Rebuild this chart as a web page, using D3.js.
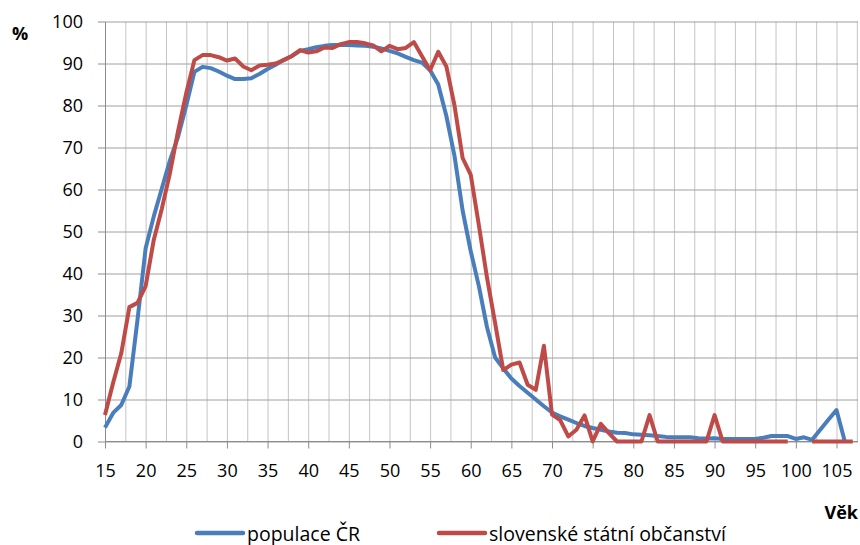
<!DOCTYPE html>
<html>
<head>
<meta charset="utf-8">
<script src="https://cdn.jsdelivr.net/npm/d3@7"></script>
<style>
  body { margin: 0; background: #fff; }
  text { font-family: "Open Sans", "Liberation Sans", sans-serif; fill: #000; }
</style>
</head>
<body>
<div id="chart"></div>
<script>
// ages (categories)
const ages = [
  15, 16, 17, 18, 19, 20, 21, 22, 23, 24, 25, 26, 27, 28, 29, 30, 31, 32, 33, 34,
  35, 36, 37, 38, 39, 40, 41, 42, 43, 44, 45, 46, 47, 48, 49, 50, 51, 52, 53, 54,
  55, 56, 57, 58, 59, 60, 61, 62, 63, 64, 65, 66, 67, 68, 69, 70, 71, 72, 73, 74,
  75, 76, 77, 78, 79, 80, 81, 82, 83, 84, 85, 86, 87, 88, 89, 90, 91, 92, 93, 94,
  95, 96, 97, 98, 99, 100, 101, 102, 103, 104, 105, 106, 107
];

// populace ČR
const populace = [
  3.3, 6.8, 8.7, 13.1, 29, 46, 53.6, 60.3, 67, 72.6, 80, 88, 89.2, 88.9, 88.1, 87.1, 86.3, 86.3, 86.5, 87.5,
  88.7, 89.7, 90.9, 91.8, 93, 93.4, 93.9, 94.2, 94.4, 94.4, 94.4, 94.3, 94.2, 94, 93.6, 93, 92.4, 91.6, 90.8, 90.2,
  88.4, 85, 77.5, 68, 55, 45.3, 37, 27.2, 20, 17.4, 15, 13.2, 11.6, 10, 8.4, 6.9, 6, 5.2, 4.4, 3.7,
  3.2, 2.8, 2.4, 2.1, 2, 1.7, 1.6, 1.5, 1.3, 1.1, 1, 1, 1, 0.8, 0.7, 0.8, 0.6, 0.6, 0.6, 0.6,
  0.6, 0.9, 1.3, 1.3, 1.3, 0.6, 1, 0.4, 2.8, 5.2, 7.5, 0.2, null
];

// slovenské státní občanství
const slovenske = [
  6.3, 14, 21, 32, 33, 37, 48, 55.5, 64, 74, 83, 90.8, 92, 92, 91.5, 90.7, 91.2, 89.3, 88.4, 89.5,
  89.7, 90, 90.8, 91.8, 93.2, 92.6, 92.9, 93.8, 93.7, 94.6, 95.1, 95.1, 94.8, 94.3, 92.9, 94.2, 93.4, 93.7, 95.1, 91.7,
  88.4, 92.8, 89.3, 80, 67.5, 63.5, 51.5, 39, 28.2, 17, 18.3, 18.8, 13.5, 12.3, 22.8, 6.4, 5.1, 1.2, 2.8, 6.2,
  0, 4.2, 2, 0, 0, 0, 0, 6.3, 0, 0, 0, 0, 0, 0, 0, 6.3, 0, 0, 0, 0,
  0, 0, 0, 0, 0, null, null, 0, 0, 0, 0, 0, 0
];

const xTicks = [15, 20, 25, 30, 35, 40, 45, 50, 55, 60, 65, 70, 75, 80, 85, 90, 95, 100, 105];
const yTicks = [0, 10, 20, 30, 40, 50, 60, 70, 80, 90, 100];

const seriesNames = ["populace ČR", "slovenské státní občanství"];
const seriesColors = ["#4a7ebb", "#be4b48"];

const width = 860, height = 545;
const plotLeft = 105, plotRight = 858, plotTop = 21.5, plotBottom = 441.5;

const svg = d3.select("#chart").append("svg")
  .attr("width", width)
  .attr("height", height);

const x = d3.scaleLinear().domain([15, 107.4]).range([plotLeft, 856]);
const y = d3.scaleLinear().domain([0, 100]).range([plotBottom, plotTop]);

// vertical gridlines every 2.5 years
const xGrid = d3.range(17.5, 107.6, 2.5);
svg.append("g")
  .attr("transform", `translate(0, ${plotBottom})`)
  .call(d3.axisBottom(x).tickValues(xGrid).tickSize(-(plotBottom - plotTop)).tickFormat(""))
  .call(g => g.select(".domain").remove())
  .call(g => g.selectAll("line").attr("stroke", "#c4c4c4"));

// horizontal gridlines
svg.append("g")
  .attr("transform", `translate(${plotLeft}, 0)`)
  .call(d3.axisLeft(y).tickValues(yTicks).tickSize(-(plotRight - plotLeft)).tickFormat(""))
  .call(g => g.select(".domain").remove())
  .call(g => g.selectAll("line").attr("stroke", "#a0a0a0"));

// y axis
svg.append("g")
  .attr("transform", `translate(${plotLeft}, 0)`)
  .call(d3.axisLeft(y).tickValues(yTicks).tickSize(7).tickSizeOuter(0).tickPadding(15))
  .call(g => g.select(".domain").attr("stroke", "#8c8c8c"))
  .call(g => g.selectAll("line").attr("stroke", "#8c8c8c"))
  .call(g => g.selectAll("text").style("font-size", "18px").attr("fill", "#000"));

// x axis
svg.append("g")
  .attr("transform", `translate(0, ${plotBottom})`)
  .call(d3.axisBottom(x).tickValues(xTicks).tickSize(7).tickSizeOuter(0).tickPadding(16))
  .call(g => g.select(".domain").attr("stroke", "#8c8c8c").attr("d", `M${plotLeft},0H${plotRight}`))
  .call(g => g.selectAll("line").attr("stroke", "#8c8c8c"))
  .call(g => g.selectAll("text").style("font-size", "18px").attr("fill", "#000"));

// lines
const line = d3.line()
  .defined(d => d.v != null)
  .x(d => x(d.age))
  .y(d => y(d.v));

[populace, slovenske].forEach((values, i) => {
  const pts = values.map((v, j) => ({ age: ages[j], v: v }));
  svg.append("path")
    .datum(pts)
    .attr("fill", "none")
    .attr("stroke", seriesColors[i])
    .attr("stroke-width", 4)
    .attr("stroke-linejoin", "round")
    .attr("d", line);
});

// axis titles
svg.append("text")
  .attr("x", 20).attr("y", 33)
  .attr("text-anchor", "middle")
  .attr("dominant-baseline", "central")
  .style("font-size", "18px").style("font-weight", "bold")
  .text("%");

svg.append("text")
  .attr("x", 858).attr("y", 512)
  .attr("text-anchor", "end")
  .attr("dominant-baseline", "central")
  .style("font-size", "18px").style("font-weight", "bold")
  .text("Věk");

// legend
const legendX = [197, 439];
seriesNames.forEach((name, i) => {
  const g = svg.append("g").attr("transform", `translate(${legendX[i]}, 533)`);
  g.append("line")
    .attr("x1", 0).attr("x2", 46)
    .attr("stroke", seriesColors[i])
    .attr("stroke-width", 4.5)
    .attr("stroke-linecap", "round");
  g.append("text")
    .attr("x", 50)
    .attr("dominant-baseline", "central")
    .style("font-size", "19.5px")
    .text(name);
});
</script>
</body>
</html>
